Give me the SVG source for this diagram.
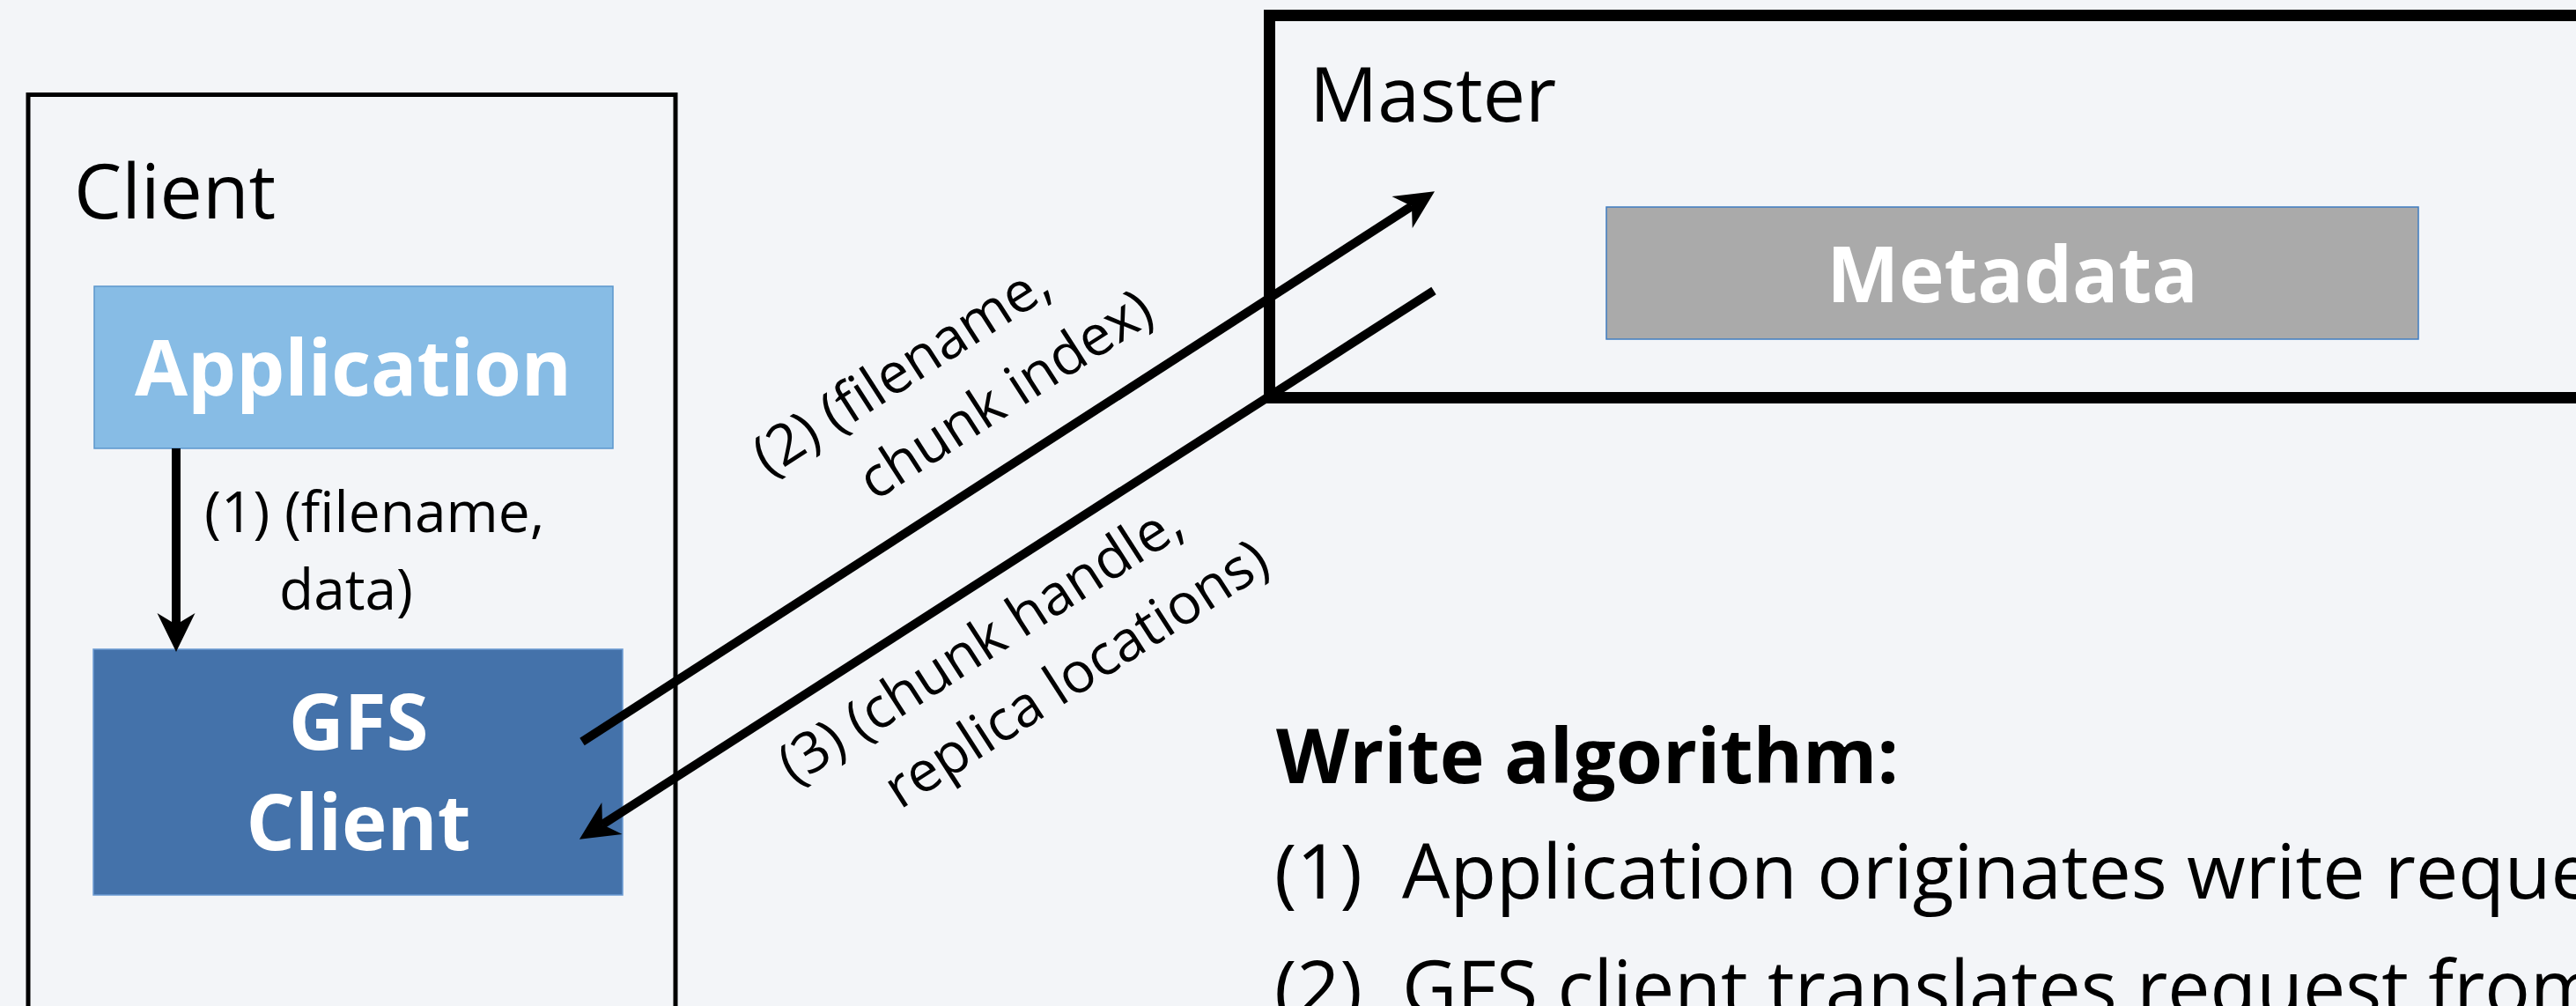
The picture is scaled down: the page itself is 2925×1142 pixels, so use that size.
<svg xmlns="http://www.w3.org/2000/svg" width="2925" height="1142" viewBox="0 0 2925 1142">
  <style>
    text { font-family: "Open Sans", "Noto Sans", "Liberation Sans", sans-serif; }
    .title { font-size: 86px; fill: #000; }
    .node-label { font-size: 87px; font-weight: 700; fill: #fff; text-anchor: middle; }
    .edge-label { font-size: 64px; fill: #000; }
    .heading { font-size: 86px; font-weight: 700; fill: #000; }
    .body { font-size: 86px; fill: #000; }
    .frame { fill: none; stroke: #000; }
    .conn { fill: none; stroke: #000; stroke-width: 10; stroke-linecap: butt; }
  </style>
  <defs>
    <marker id="head" viewBox="0 -22 44 44" refX="13" refY="0" markerWidth="44" markerHeight="44" markerUnits="userSpaceOnUse" orient="auto" overflow="visible">
      <path d="M0,-21.5 L44,0 L0,21.5 L13,0 Z" fill="#000"/>
    </marker>
  </defs>

  <rect x="0" y="0" width="2925" height="1142" fill="#F3F5F8"/>

  <!-- Client container -->
  <g id="client">
    <rect class="frame" x="32" y="107.5" width="735" height="1100" stroke-width="5"/>
    <text class="title" x="84" y="248">Client</text>
  </g>

  <!-- Master container -->
  <g id="master">
    <rect class="frame" x="1441.5" y="17.5" width="1600" height="434" stroke-width="13"/>
    <text class="title" x="1487" y="138">Master</text>
  </g>

  <g id="application">
    <rect x="107" y="325" width="589" height="184" fill="#87BCE5" stroke="#5C97CC" stroke-width="1.5"/>
    <text class="node-label" x="401" y="449">Application</text>
  </g>

  <g id="gfs-client">
    <rect x="106" y="737" width="601" height="279" fill="#4472AA" stroke="#6B9BD2" stroke-width="1.5"/>
    <text class="node-label" x="407" y="851">GFS</text>
    <text class="node-label" x="407" y="965">Client</text>
  </g>

  <g id="metadata">
    <rect x="1824" y="235" width="922" height="150" fill="#AAAAAA" stroke="#3F7CC0" stroke-width="1.5"/>
    <text class="node-label" x="2285" y="343">Metadata</text>
  </g>

  <!-- Connectors -->
  <g id="connectors">
    <line class="conn" x1="200" y1="509" x2="200" y2="709" marker-end="url(#head)"/>
    <line class="conn" x1="661" y1="842" x2="1603" y2="234" marker-end="url(#head)"/>
    <line class="conn" x1="1628" y1="330" x2="684" y2="936" marker-end="url(#head)"/>

    <text class="edge-label" x="232" y="604">(1) (filename,</text>
    <text class="edge-label" x="317" y="692">data)</text>

    <text class="edge-label" transform="translate(873,542) rotate(-32.8)">
      <tspan x="0" y="0">(2) (filename,</tspan>
      <tspan x="86" y="88">chunk index)</tspan>
    </text>
    <text class="edge-label" transform="translate(902,892) rotate(-32.8)">
      <tspan x="0" y="0">(3) (chunk handle,</tspan>
      <tspan x="86" y="88">replica locations)</tspan>
    </text>
  </g>

  <!-- Algorithm steps -->
  <g id="algorithm">
    <text class="heading" x="1449" y="889">Write algorithm:</text>
    <text class="body" y="1020"><tspan x="1447">(1)</tspan><tspan x="1592">Application originates write request</tspan></text>
    <text class="body" y="1152"><tspan x="1447">(2)</tspan><tspan x="1592">GFS client translates request from</tspan></text>
  </g>
</svg>
